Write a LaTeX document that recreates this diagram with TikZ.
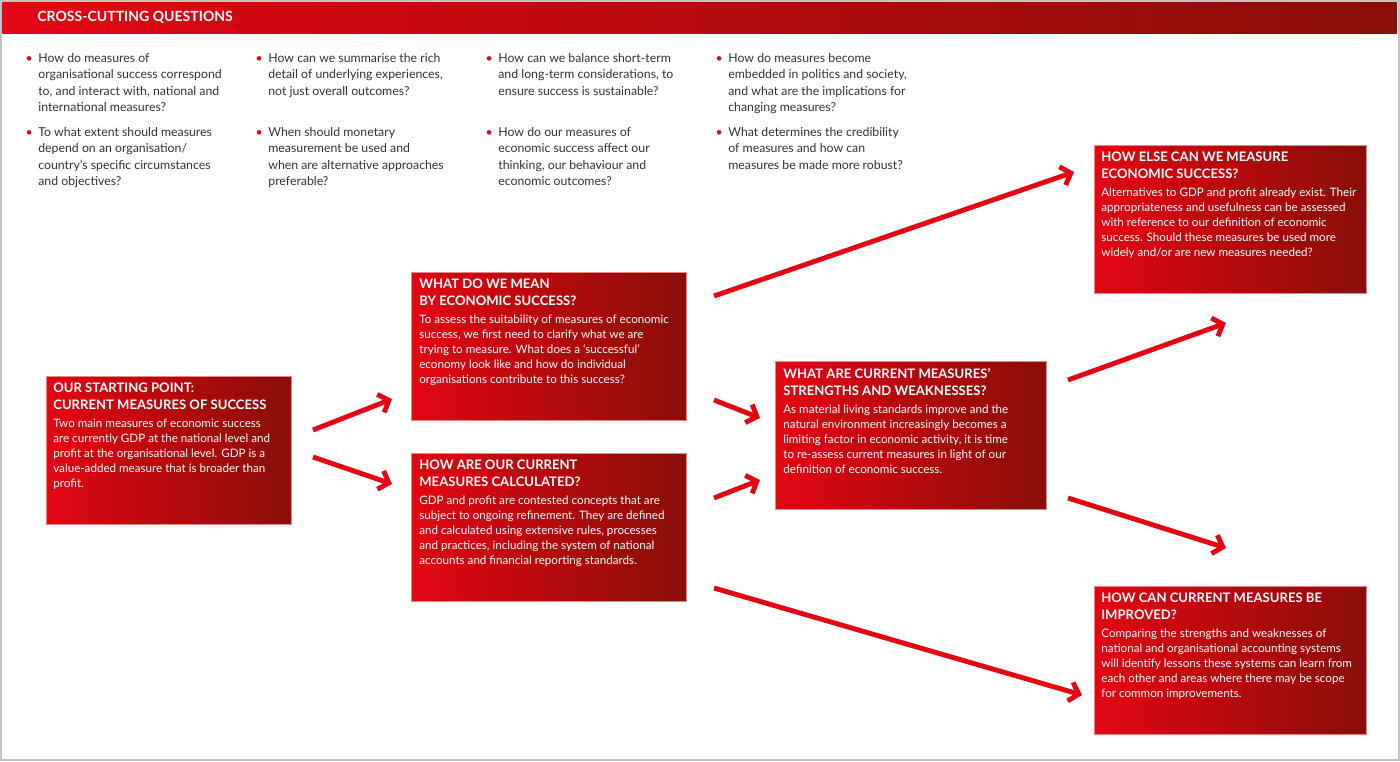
\documentclass[tikz,border=0pt]{standalone}
\usepackage{fontspec}
\setmainfont{Lato}
\usetikzlibrary{arrows.meta,positioning}
\definecolor{cred}{RGB}{227,6,19}
\definecolor{cdark}{RGB}{136,14,8}
\definecolor{qgray}{RGB}{50,50,50}
\definecolor{framegray}{RGB}{195,195,195}
\newcommand{\bul}{\llap{\textcolor{cred}{\textbullet}\hspace{3.2pt}}}

\begin{document}
\begin{tikzpicture}[x=0.02cm, y=-0.02cm,
  box/.style={rectangle, anchor=north west, minimum height=2.96cm, inner sep=0pt,
    left color=cred, right color=cdark, draw=cred!50!white, line width=0.3pt},
  ttl/.style={anchor=north west, align=left, inner sep=0pt, text=white,
    font=\bfseries\fontsize{7.45}{9.7}\selectfont},
  body/.style={align=left, inner sep=0pt, text=white,
    font=\fontsize{6.62}{8.54}\selectfont},
  quest/.style={anchor=north west, align=left, inner sep=0pt, text=qgray,
    font=\fontsize{7.0}{9.28}\selectfont},
  arr/.style={draw=cred, line width=2.8pt,
    -{Straight Barb[length=5pt, width=11pt]}}]

  % Rahmen und Kopfzeile
  \draw[framegray, line width=0.6pt] (1,1) rectangle (1399,760);
  \node (hdr) [rectangle, anchor=north west, inner sep=0pt, minimum width=27.9cm,
    minimum height=0.62cm, left color=cred, right color=cdark] at (2,2) {};
  \node (hdrtext) [anchor=west, inner sep=0pt, text=white,
    font=\bfseries\fontsize{8}{9}\selectfont] at (37,17) {CROSS-CUTTING QUESTIONS};

  % Fragen, Spalte 1
  \node (q1a) [quest] at (38,53) {\bul How do measures of\\organisational success correspond\\to, and interact with, national and\\international measures?};
  \node (q1b) [quest] at (38,127) {\bul To what extent should measures\\depend on an organisation/\\country’s specific circumstances\\and objectives?};

  % Fragen, Spalte 2
  \node (q2a) [quest] at (268,53) {\bul How can we summarise the rich\\detail of underlying experiences,\\not just overall outcomes?};
  \node (q2b) [quest] at (268,127) {\bul When should monetary\\measurement be used and\\when are alternative approaches\\preferable?};

  % Fragen, Spalte 3
  \node (q3a) [quest] at (498,53) {\bul How can we balance short-term\\and long-term considerations, to\\ensure success is sustainable?};
  \node (q3b) [quest] at (498,127) {\bul How do our measures of\\economic success affect our\\thinking, our behaviour and\\economic outcomes?};

  % Fragen, Spalte 4
  \node (q4a) [quest] at (728,53) {\bul How do measures become\\embedded in politics and society,\\and what are the implications for\\changing measures?};
  \node (q4b) [quest] at (728,127) {\bul What determines the credibility\\of measures and how can\\measures be made more robust?};

  % Ausgangspunkt
  \node (start) [box, minimum width=4.9cm] at (46,376) {};
  \node (startt) [ttl] at ([xshift=0.14cm, yshift=-0.14cm]start.north west) {OUR STARTING POINT:\\CURRENT MEASURES OF SUCCESS};
  \node (startb) [body, below=0.17cm of startt.south west, anchor=north west] {Two main measures of economic success\\are currently GDP at the national level and\\profit at the organisational level. GDP is a\\value-added measure that is broader than\\profit.};

  % Bedeutung
  \node (mean) [box, minimum width=5.5cm] at (411,272) {};
  \node (meant) [ttl] at ([xshift=0.16cm, yshift=-0.14cm]mean.north west) {WHAT DO WE MEAN\\BY ECONOMIC SUCCESS?};
  \node (meanb) [body, below=0.17cm of meant.south west, anchor=north west] {To assess the suitability of measures of economic\\success, we first need to clarify what we are\\trying to measure. What does a ‘successful’\\economy look like and how do individual\\organisations contribute to this success?};

  % Berechnung
  \node (calc) [box, minimum width=5.5cm] at (411,453) {};
  \node (calct) [ttl] at ([xshift=0.16cm, yshift=-0.14cm]calc.north west) {HOW ARE OUR CURRENT\\MEASURES CALCULATED?};
  \node (calcb) [body, below=0.17cm of calct.south west, anchor=north west] {GDP and profit are contested concepts that are\\subject to ongoing refinement. They are defined\\and calculated using extensive rules, processes\\and practices, including the system of national\\accounts and financial reporting standards.};

  % Staerken und Schwaechen
  \node (sw) [box, minimum width=5.42cm] at (775,361) {};
  \node (swt) [ttl] at ([xshift=0.16cm, yshift=-0.14cm]sw.north west) {WHAT ARE CURRENT MEASURES’\\STRENGTHS AND WEAKNESSES?};
  \node (swb) [body, below=0.17cm of swt.south west, anchor=north west] {As material living standards improve and the\\natural environment increasingly becomes a\\limiting factor in economic activity, it is time\\to re-assess current measures in light of our\\definition of economic success.};

  % Alternativen
  \node (else) [box, minimum width=5.44cm] at (1094,145) {};
  \node (elset) [ttl] at ([xshift=0.14cm, yshift=-0.14cm]else.north west) {HOW ELSE CAN WE MEASURE\\ECONOMIC SUCCESS?};
  \node (elseb) [body, below=0.17cm of elset.south west, anchor=north west] {Alternatives to GDP and profit already exist. Their\\appropriateness and usefulness can be assessed\\with reference to our definition of economic\\success. Should these measures be used more\\widely and/or are new measures needed?};

  % Verbesserung
  \node (impr) [box, minimum width=5.44cm] at (1094,586) {};
  \node (imprt) [ttl] at ([xshift=0.14cm, yshift=-0.14cm]impr.north west) {HOW CAN CURRENT MEASURES BE\\IMPROVED?};
  \node (imprb) [body, below=0.17cm of imprt.south west, anchor=north west] {Comparing the strengths and weaknesses of\\national and organisational accounting systems\\will identify lessons these systems can learn from\\each other and areas where there may be scope\\for common improvements.};

  % Pfeilenden
  \coordinate (a1s) at (313,430); \coordinate (a1e) at (392,399);
  \coordinate (a2s) at (313,457); \coordinate (a2e) at (392,484);
  \coordinate (a3s) at (714,296); \coordinate (a3e) at (1074,172);
  \coordinate (a4s) at (714,400); \coordinate (a4e) at (760,418);
  \coordinate (a5s) at (714,498); \coordinate (a5e) at (760,480);
  \coordinate (a6s) at (714,588); \coordinate (a6e) at (1082,695);
  \coordinate (a7s) at (1068,380); \coordinate (a7e) at (1226,323);
  \coordinate (a8s) at (1068,498); \coordinate (a8e) at (1226,548);

  % Pfeile
  \draw[arr] (a1s) -- (a1e);
  \draw[arr] (a2s) -- (a2e);
  \draw[arr] (a3s) -- (a3e);
  \draw[arr] (a4s) -- (a4e);
  \draw[arr] (a5s) -- (a5e);
  \draw[arr] (a6s) -- (a6e);
  \draw[arr] (a7s) -- (a7e);
  \draw[arr] (a8s) -- (a8e);

  \useasboundingbox (0,0) rectangle (1400,761);
\end{tikzpicture}
\end{document}
